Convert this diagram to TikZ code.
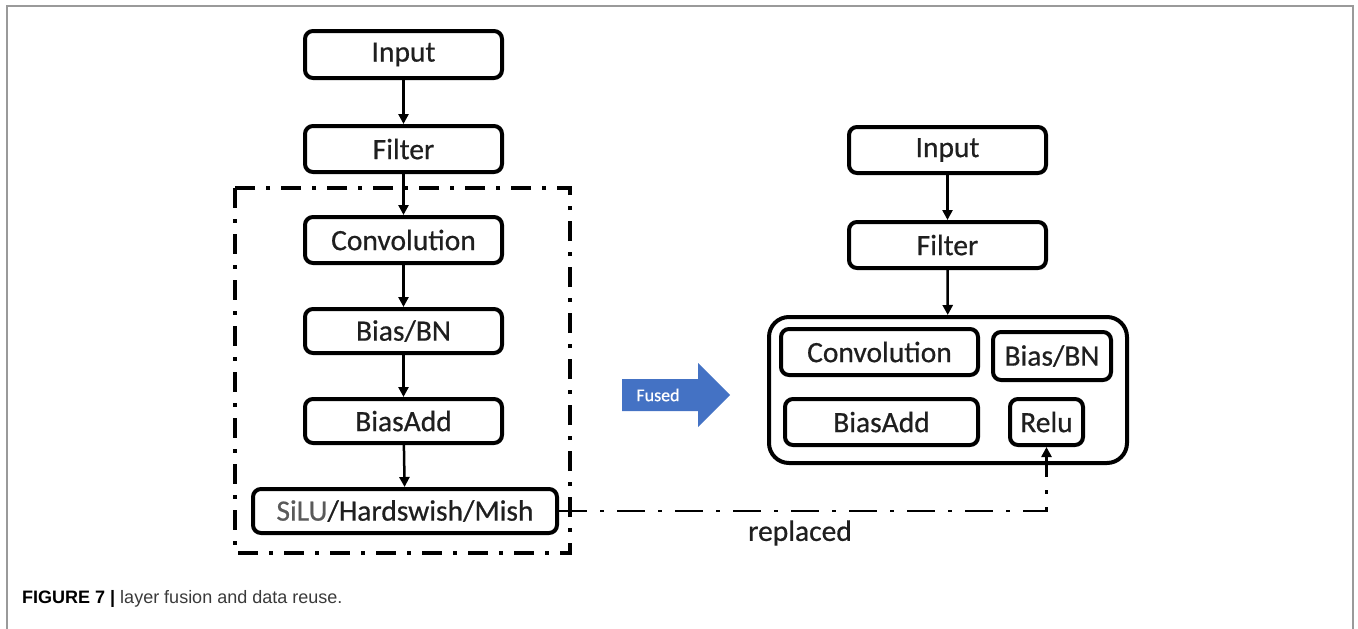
\documentclass[tikz,border=0pt]{standalone}
\usepackage{fontspec}
\setmainfont{Carlito}
\newfontfamily\diagfont{Carlito}[FakeBold=0.6]
\newfontfamily\capfont{Liberation Sans}
\usetikzlibrary{arrows.meta}
\definecolor{fusedblue}{HTML}{4472C4}
\definecolor{silugray}{HTML}{5A5A5A}
\definecolor{framegray}{HTML}{9A9A9A}
\definecolor{captext}{HTML}{3A3A3A}
\begin{document}
\begin{tikzpicture}[x=1pt,y=-1pt,
  box/.style={draw, line width=4pt, rounded corners=8pt, inner sep=0pt,
    font=\diagfont\fontsize{29.5}{32}\selectfont, text=black!88},
  conn/.style={line width=2.5pt, -{Triangle[length=10pt,width=10pt]}},
  groupline/.style={line width=4pt, dash pattern=on 20pt off 11pt on 4pt off 11pt},
  replline/.style={line width=2.8pt, dash pattern=on 28pt off 13pt on 4pt off 13pt,
    -{Triangle[length=10pt,width=10pt]}}]
\useasboundingbox (0,0) rectangle (1358,629);
% page frame
\draw[framegray, line width=1.5pt] (7,640) -- (7,6) -- (1353,6) -- (1353,640);

% left column
\node[box, minimum width=197pt, minimum height=47pt] (inL) at (403.5,54.5) {Input};
\node[box, minimum width=197pt, minimum height=46pt] (fiL) at (403.5,149) {Filter};
\node[box, minimum width=197pt, minimum height=46pt] (coL) at (403.5,240) {Convolution};
\node[box, minimum width=197pt, minimum height=44pt] (bnL) at (403.5,331) {Bias/BN};
\node[box, minimum width=197pt, minimum height=44pt] (baL) at (403.5,421) {BiasAdd};
\node[box, minimum width=304pt, minimum height=44pt] (si) at (405,511) {\textcolor{silugray}{SiLU}/Hardswish/Mish};
\draw[groupline] (235,188) rectangle (570,553);

\draw[conn] (inL) -- (fiL);
\draw[conn] (fiL) -- (coL);
\draw[conn] (coL) -- (bnL);
\draw[conn] (bnL) -- (baL);
\draw[conn] (baL) -- (si);

% fused arrow
\fill[fusedblue] (622,379) -- (698,379) -- (698,363) -- (730,395) -- (698,427) -- (698,411) -- (622,411) -- cycle;
\node[text=white, font=\diagfont\fontsize{18}{20}\selectfont] (fused) at (658,395) {Fused};

% right column
\node[box, minimum width=197pt, minimum height=46pt] (inR) at (947.5,150) {Input};
\node[box, minimum width=197pt, minimum height=46pt] (fiR) at (947.5,245) {Filter};
\node[draw, line width=4pt, rounded corners=20pt, minimum width=358pt, minimum height=146pt] (big) at (948,390) {};
\node[box, minimum width=197pt, minimum height=46pt] (coR) at (879.5,352) {Convolution};
\node[box, minimum width=118pt, minimum height=48pt] (bnR) at (1052,356) {Bias/BN};
\node[box, minimum width=193pt, minimum height=46pt] (baR) at (881.5,422) {BiasAdd};
\node[box, minimum width=73pt, minimum height=46pt] (re) at (1046.5,422) {Relu};

\draw[conn] (inR) -- (fiR);
\draw[conn] (fiR) -- (big);

% replaced connector
\draw[replline] (si.east) -| (re.south);
\node[font=\diagfont\fontsize{29.5}{32}\selectfont, text=black!88] (repl) at (800,533) {replaced};

% caption
\node[anchor=base west, inner sep=0pt, font=\capfont\fontsize{18}{20}\selectfont] (cap) at (22,603)
  {\textbf{FIGURE 7 |} \textcolor{captext}{layer fusion and data reuse.}};
\end{tikzpicture}
\end{document}
